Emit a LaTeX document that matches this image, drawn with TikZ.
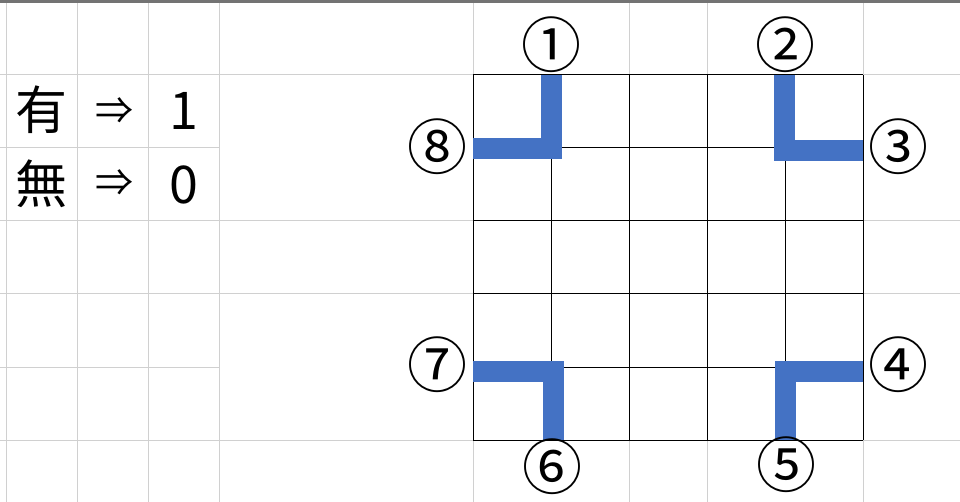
\documentclass[tikz,border=0pt]{standalone}
\usepackage{fontspec}
\newfontfamily\jpfont{Noto Sans CJK JP}
\definecolor{wallblue}{HTML}{4472C4}
\definecolor{sheetgray}{HTML}{D0D0D0}

\begin{document}
\begin{tikzpicture}
			[x=1pt,y=-1pt, sheet/.style={draw=sheetgray,line width=1pt}, board/.style={draw=black,line width=1pt},
			wall/.style={draw=wallblue,line width=21pt}, num/.style={inner sep=0pt,font=\jpfont\fontsize{60}{60}\selectfont},
			entry/.style={inner sep=0pt,anchor=base,font=\jpfont\fontsize{52}{52}\selectfont},
			arrow/.style={inner sep=0pt,font=\jpfont\fontsize{38}{38}\selectfont}]
			\useasboundingbox (0,0) rectangle (960,502);
			\fill[white] (0,0) rectangle (960,502);
			
			% sheet lines
			\foreach \x in {6,77,148,219,863} \draw[sheet] (\x,0) -- (\x,502);
			\foreach \y in {75,221,294,440} \draw[sheet] (0,\y) -- (960,\y);
			\foreach \y in {148,367} \draw[sheet] (0,\y) -- (219,\y);
			\foreach \x in {473,629,707} {
				\draw[sheet] (\x,0) -- (\x,75);
				\draw[sheet] (\x,440) -- (\x,502);
			}
			\draw[black!55,line width=3pt] (0,1.5) -- (960,1.5);
			
			% table
			\node[entry] (yu) at (41.5,130) {有};
			\node[arrow] (ar1) at (114.5,111.5) {⇒};
			\node[entry] (one) at (183.5,130) {1};
			\node[entry] (mu) at (41.5,204) {無};
			\node[arrow] (ar2) at (114.5,183.5) {⇒};
			\node[entry] (zero) at (183.5,204) {0};
			
			% board
			\foreach \i in {0,...,5} {
				\draw[board] (473+78*\i,75) -- (473+78*\i,440);
				\draw[board] (473,75+73*\i) -- (863,75+73*\i);
			}
			
			% walls
			\coordinate (w1) at (551,75);
			\coordinate (w2) at (784,75);
			\coordinate (w3) at (863,151);
			\coordinate (w4) at (863,371);
			\coordinate (w5) at (785,440);
			\coordinate (w6) at (553,440);
			\coordinate (w7) at (473,371);
			\coordinate (w8) at (473,148.5);
			\draw[wall] (w8) -- (w1 |- w8) -- (w1);
			\draw[wall] (w2) -- (w2 |- w3) -- (w3);
			\draw[wall] (w4) -- (w5 |- w4) -- (w5);
			\draw[wall] (w7) -- (w6 |- w7) -- (w6);
			
			% labels
			\node[num] (n1) at (551,44.5) {①};
			\node[num] (n2) at (785,44.5) {②};
			\node[num] (n3) at (898.5,146.5) {③};
			\node[num] (n4) at (898.5,365) {④};
			\node[num] (n5) at (786,465) {⑤};
			\node[num] (n6) at (552,466.5) {⑥};
			\node[num] (n7) at (437.5,365) {⑦};
			\node[num] (n8) at (437.5,146.5) {⑧};
			\end{tikzpicture}
\end{document}
